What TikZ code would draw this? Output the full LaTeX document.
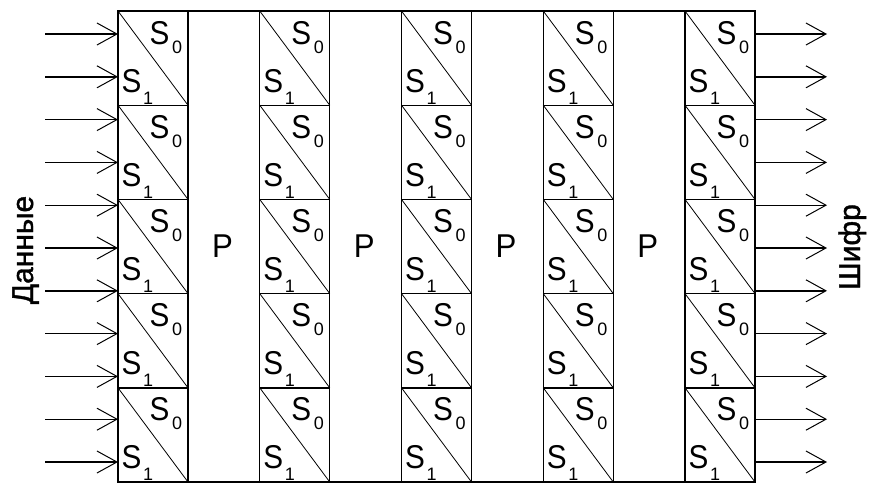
\documentclass[tikz,border=0pt]{standalone}
\usepackage{fontspec}
\setmainfont{Liberation Sans}
\newfontfamily\sidefont[FakeBold=1.2]{Liberation Sans}
\usetikzlibrary{arrows.meta}
\begin{document}
\begin{tikzpicture}[x=1pt,y=-1pt,
  cell/.style={draw, line width=1.4pt, minimum width=70pt, minimum height=94.2pt, inner sep=0pt, outer sep=0pt, anchor=north west},
  diag/.style={line width=0.8pt},
  big/.style={font=\fontsize{33}{33}\selectfont, inner sep=0pt, anchor=base west, xscale=0.9},
  sub/.style={font=\fontsize{18}{18}\selectfont, inner sep=0pt, anchor=base west},
  arr/.style={line width=1.4pt, -{Straight Barb[length=20pt,width=22pt,line width=1pt]}},
  frame/.style={line width=1.4pt},
  side/.style={font=\sidefont\fontsize{30}{30}\selectfont, inner sep=0pt, rotate=90, anchor=base}]
\useasboundingbox (0,0) rectangle (873,483);
\foreach \i in {0,...,4} {
  \pgfmathsetmacro\L{118+141.75*\i}
  \foreach \j in {0,...,4} {
    \pgfmathsetmacro\T{11+94.2*\j}
    \node[cell] (c\i\j) at (\L,\T) {};
    \draw[diag] (c\i\j.north west) -- (c\i\j.south east);
    \node[big] (sa\i\j) at (\L+31.5,\T+33) {S};
    \node[sub] (za\i\j) at (\L+54,\T+42) {0};
    \node[big] (sb\i\j) at (\L+3.5,\T+81) {S};
    \node[sub] (zb\i\j) at (\L+25,\T+93) {1};
  }
}
\draw[frame] (c00.north west) -- (c40.north east);
\draw[frame] (c04.south west) -- (c44.south east);
\foreach \i in {0,...,3} {
  \node[big, xscale=1.05] (p\i) at (118+141.75*\i+94,257) {P};
}
\foreach \k in {0,...,10} {
  \pgfmathsetmacro\Y{34+42.8*\k}
  \coordinate (in\k) at (45,\Y);
  \coordinate (ie\k) at (118,\Y);
  \coordinate (os\k) at (755,\Y);
  \coordinate (oe\k) at (827,\Y);
  \draw[arr] (in\k) -- (ie\k);
  \draw[arr] (os\k) -- (oe\k);
}
\node[side] (dat) at (33,250) {Данные};
\node[side] (shf) at (860,247) {Шифр};
\end{tikzpicture}
\end{document}
